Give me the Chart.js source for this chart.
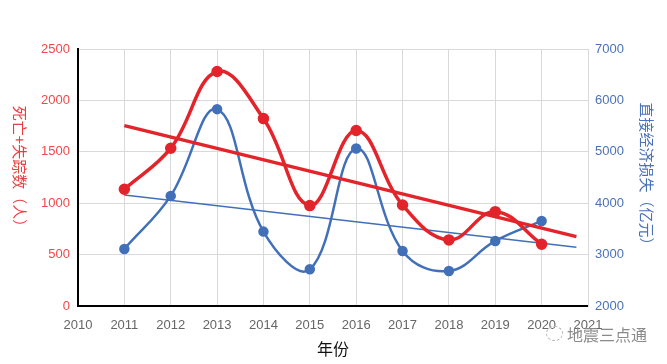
<!DOCTYPE html>
<html>
<head>
<meta charset="utf-8">
<script src="https://cdn.jsdelivr.net/npm/chart.js@4"></script>
<style>
  html, body { margin: 0; padding: 0; background: #fff; }
  #wrap { position: relative; width: 667px; height: 364px; }
  #mark { position: absolute; left: 567px; top: 322px; font: 16px "Noto Sans CJK SC", sans-serif; color: #8a8a8a; }
  #logo { position: absolute; left: 546px; top: 326px; width: 15px; height: 13px; border: 1px dashed #b0b0b0; border-radius: 50%; }
</style>
</head>
<body>
<div id="wrap">
  <canvas id="chart" width="667" height="364"></canvas>
  <div id="logo"></div>
  <div id="mark">地震三点通</div>
</div>
<script>
// years + the two series
const years = [2011, 2012, 2013, 2014, 2015, 2016, 2017, 2018, 2019, 2020];
const deaths = [1136, 1535, 2281, 1823, 977, 1707, 983, 643, 918, 601];
const losses = [3110, 4142, 5830, 3447, 2714, 5063, 3071, 2681, 3266, 3655];

// trend line ends (as drawn in the source)
const deathTrendX = [2011, 2020.75];
const deathTrendY = [1755, 675];
const lossTrendX = [2011, 2020.75];
const lossTrendY = [4161, 3143];

const RED = "#e3242b";
const BLUE = "#4270b8";
const FONT = "'Liberation Sans', 'Noto Sans CJK SC', sans-serif";

const pts = (xs, ys) => xs.map((x, i) => ({ x: x, y: ys[i] }));

// left title reads top-to-bottom, so draw it ourselves
const leftTitle = {
  id: "leftTitle",
  afterDraw(chart) {
    const ctx = chart.ctx;
    ctx.save();
    ctx.translate(20, 170);
    ctx.rotate(Math.PI / 2);
    ctx.fillStyle = "#e8403f";
    ctx.font = "15px 'Noto Sans CJK SC', sans-serif";
    ctx.textAlign = "center";
    ctx.textBaseline = "middle";
    ctx.fillText("死亡+失踪数（人）", 0, 0);
    ctx.restore();
  },
};

new Chart(document.getElementById("chart"), {
  type: "line",
  data: {
    datasets: [
      {
        data: pts(deathTrendX, deathTrendY),
        borderColor: RED,
        borderWidth: 3.5,
        pointRadius: 0,
        yAxisID: "y",
      },
      {
        data: pts(years, deaths),
        borderColor: RED,
        backgroundColor: RED,
        borderWidth: 3.5,
        pointRadius: 4,
        tension: 0.4,
        yAxisID: "y",
      },
      {
        data: pts(lossTrendX, lossTrendY),
        borderColor: BLUE,
        borderWidth: 1.5,
        pointRadius: 0,
        yAxisID: "y1",
      },
      {
        data: pts(years, losses),
        borderColor: BLUE,
        backgroundColor: BLUE,
        borderWidth: 2.5,
        pointRadius: 4,
        tension: 0.4,
        yAxisID: "y1",
      },
    ],
  },
  options: {
    responsive: false,
    animation: false,
    layout: { padding: { top: 49, left: 0, right: 0, bottom: 0 } },
    plugins: { legend: { display: false }, tooltip: { enabled: false } },
    scales: {
      x: {
        type: "linear",
        min: 2010,
        max: 2021,
        ticks: { stepSize: 1, color: "#666", font: { family: FONT, size: 13 }, padding: 12, callback: (v) => String(v) },
        grid: { color: "#d9d9d9", drawTicks: false },
        border: { color: "#000", width: 2 },
        title: { display: true, text: "年份", color: "#111", font: { family: FONT, size: 16 }, padding: { top: 2, bottom: 4 } },
        afterFit: (s) => { s.height = 58; },
      },
      y: {
        position: "left",
        min: 0,
        max: 2500,
        ticks: { stepSize: 500, color: "#f04848", font: { family: FONT, size: 13 }, padding: 8, callback: (v) => String(v) },
        grid: { color: "#d9d9d9", drawTicks: false },
        border: { color: "#000", width: 2 },
        afterFit: (s) => { s.width = 78; },
      },
      y1: {
        position: "right",
        min: 2000,
        max: 7000,
        ticks: { stepSize: 1000, color: "#4a72b8", font: { family: FONT, size: 13 }, padding: 7, callback: (v) => String(v) },
        grid: { display: false, drawTicks: false },
        border: { color: "#d9d9d9", width: 1 },
        title: { display: true, text: "直接经济损失（亿元）", color: "#4a72b8", font: { family: FONT, size: 15 }, padding: { top: 13, bottom: 0 } },
        afterFit: (s) => { s.width = 79; },
      },
    },
  },
  plugins: [leftTitle],
});
</script>
</body>
</html>
